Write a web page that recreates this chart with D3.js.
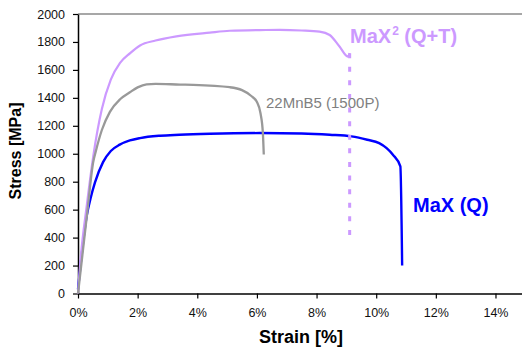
<!DOCTYPE html>
<html>
<head>
<meta charset="utf-8">
<script src="https://cdn.jsdelivr.net/npm/d3@7"></script>
<style>
  html, body { margin: 0; padding: 0; background: #fff; }
  svg { display: block; font-family: "Liberation Sans", Arial, sans-serif; }
</style>
</head>
<body>
<div id="chart"></div>
<script>
// values (strain in %, stress in MPa)
const strainMaxQ = [0, 0.3, 0.42, 0.57, 0.84, 1.1, 1.4, 1.74, 2.08, 2.75, 3.4, 4.42, 6.1, 7.5, 8.44, 9.17, 9.7, 10.1, 10.35, 10.56, 10.81, 10.87];
const stressMaxQ = [30, 565, 680, 795, 940, 1020, 1065, 1095, 1112, 1129, 1136, 1143, 1148, 1145, 1136, 1124, 1100, 1076, 1040, 993, 909, 200];

const strain22MnB5 = [0, 0.3, 0.51, 0.6, 0.8, 1.07, 1.41, 1.74, 2.0, 2.3, 2.6, 3.42, 3.86, 5.09, 5.5, 5.8, 6.0, 6.12, 6.2, 6.23];
const stress22MnB5 = [0, 560, 940, 1020, 1170, 1300, 1390, 1440, 1475, 1497, 1500, 1495, 1493, 1476, 1455, 1415, 1370, 1290, 1148, 995];

const strainMaX2 = [0, 0.08, 0.3, 0.51, 0.8, 1.1, 1.41, 1.75, 2.08, 2.6, 3.3, 4.42, 5.09, 6.1, 6.76, 7.5, 8.1, 8.44, 8.77, 9.05, 9.11];
const stressMaX2 = [0, 230, 640, 980, 1320, 1530, 1650, 1720, 1775, 1810, 1840, 1867, 1880, 1885, 1886, 1882, 1874, 1850, 1767, 1695, 1720];

// the dotted drop at the end of the MaX2 curve
const strainMaX2Drop = [9.11, 9.11];
const stressMaX2Drop = [1720, 405];

const stressTicks = [0, 200, 400, 600, 800, 1000, 1200, 1400, 1600, 1800, 2000];
const strainTicks = [0, 2, 4, 6, 8, 10, 12, 14];

function stressStrain() {
  const margin = {top: 14, right: 0, bottom: 53.5, left: 78};
  const width = 522;
  const height = 347;

  function chart(selection) {
    selection.each(function() {
      const x = d3.scaleLinear()
          .domain([0, 15])
          .range([margin.left, margin.left + 15 * 29.82]);

      const y = d3.scaleLinear()
          .domain([0, 2000])
          .range([height - margin.bottom, margin.top]);

      const svg = d3.select(this).append('svg')
          .attr('width', width)
          .attr('height', height);

      // gray frame line on top
      svg.append('line')
          .attr('x1', x(0))
          .attr('x2', x(15))
          .attr('y1', y(2000))
          .attr('y2', y(2000))
          .attr('stroke', '#8a8a8a')
          .attr('stroke-width', 1.5);

      svg.append('g')
          .attr('transform', `translate(${x(0)},0)`)
          .call(d3.axisLeft(y)
            .tickValues(stressTicks)
            .tickFormat(d3.format('d'))
            .tickSize(5)
            .tickSizeOuter(0)
            .tickPadding(8))
          .call(g => g.select('.domain').attr('stroke-width', 1.5))
          .call(g => g.selectAll('.tick line').attr('stroke-width', 1.2))
          .call(g => g.selectAll('text')
              .attr('font-size', 12.5)
              .attr('fill', '#111'));

      svg.append('g')
          .attr('transform', `translate(0,${y(0)})`)
          .call(d3.axisBottom(x)
            .tickValues(strainTicks)
            .tickFormat(d => d + '%')
            .tickSize(5)
            .tickSizeOuter(0)
            .tickPadding(10))
          .call(g => g.select('.domain').attr('stroke-width', 1.5))
          .call(g => g.selectAll('.tick line').attr('stroke-width', 1.2))
          .call(g => g.selectAll('text')
              .attr('font-size', 12.5)
              .attr('fill', '#111'));

      // axis titles
      svg.append('text')
          .attr('transform', `translate(21,151) rotate(-90)`)
          .attr('text-anchor', 'middle')
          .attr('font-size', 16)
          .attr('font-weight', 'bold')
          .text('Stress [MPa]');

      svg.append('text')
          .attr('x', 301)
          .attr('y', 342.5)
          .attr('text-anchor', 'middle')
          .attr('font-size', 18)
          .attr('font-weight', 'bold')
          .text('Strain [%]');

      const line = d3.line()
          .x(d => x(d[0]))
          .y(d => y(d[1]))
          .curve(d3.curveMonotoneX);

      const straight = d3.line()
          .x(d => x(d[0]))
          .y(d => y(d[1]));

      // blue first so the other two cover it along the elastic part
      const series = [
        {strain: strainMaxQ, stress: stressMaxQ, color: '#0000ff', w: 2.4},
        {strain: strainMaX2, stress: stressMaX2, color: '#cc99ff', w: 2.2},
        {strain: strain22MnB5, stress: stress22MnB5, color: '#999999', w: 2.3}
      ];

      svg.append('g')
          .attr('fill', 'none')
          .attr('stroke-linejoin', 'round')
        .selectAll('path')
        .data(series)
        .join('path')
          .attr('d', d => line(d3.zip(d.strain, d.stress)))
          .attr('stroke', d => d.color)
          .attr('stroke-width', d => d.w);

      svg.append('path')
          .attr('d', straight(d3.zip(strainMaX2Drop, stressMaX2Drop)))
          .attr('fill', 'none')
          .attr('stroke', '#cc99ff')
          .attr('stroke-width', 3)
          .attr('stroke-dasharray', '5,8.6');

      // series labels
      const maX2 = svg.append('text')
          .attr('x', 350)
          .attr('y', 43)
          .attr('font-size', 20)
          .attr('font-weight', 'bold')
          .attr('fill', '#cc99ff');
      maX2.append('tspan').text('MaX');
      maX2.append('tspan').attr('font-size', 12).attr('dy', -8).attr('dx', 1).text('2');
      maX2.append('tspan').attr('dy', 8).text(' (Q+T)');

      svg.append('text')
          .attr('x', 266)
          .attr('y', 108)
          .attr('font-size', 15)
          .attr('fill', '#808080')
          .text('22MnB5 (1500P)');

      svg.append('text')
          .attr('x', 413)
          .attr('y', 212)
          .attr('font-size', 20)
          .attr('font-weight', 'bold')
          .attr('fill', '#0000ff')
          .text('MaX (Q)');
    });
  }

  return chart;
}

d3.select('#chart').call(stressStrain());
</script>
</body>
</html>
